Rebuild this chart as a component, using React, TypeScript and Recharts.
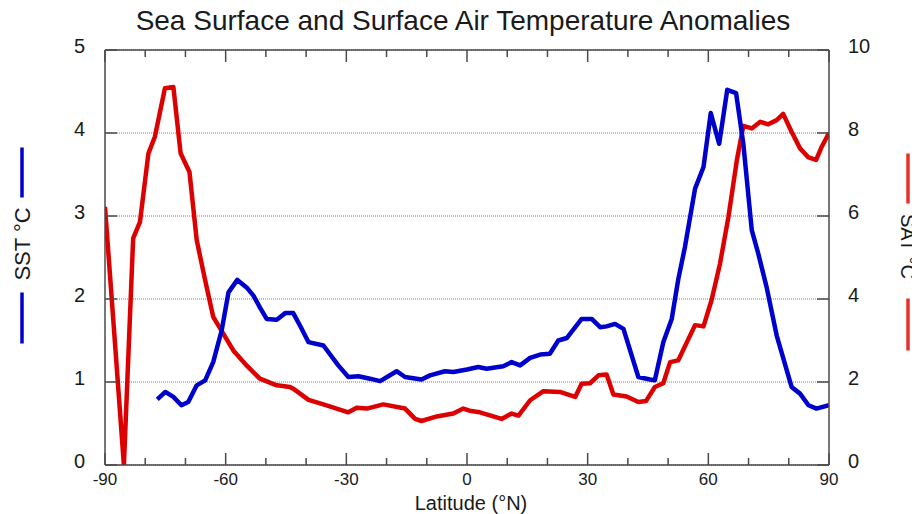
import React from 'react';
import { LineChart, Line, XAxis, YAxis, CartesianGrid } from 'recharts';

// ---- data ----
const SST_LAT = [-77, -75, -73, -71, -69.3, -67.2, -65.1, -63.1, -61, -59.3, -57.1, -54.8, -53.1, -51.5, -49.8, -47.3, -45.2, -43.2, -41.3, -39.4, -35.7, -32, -29.5, -27, -24.1, -21.6, -17.5, -15.4, -11.3, -9.2, -5.5, -3.4, 0, 2.8, 4.9, 9, 11.1, 13.2, 15.7, 18.2, 20.6, 22.7, 24.8, 28.5, 31, 33.1, 34.7, 36.8, 38.9, 42.6, 45.5, 46.7, 48.8, 50.9, 52.5, 54.2, 56.7, 58.8, 60.6, 62.7, 64.7, 66.9, 68.7, 70.8, 72.4, 74.5, 77, 80.7, 82.8, 84.9, 86.9, 90];
const SST_VAL = [0.79, 0.88, 0.82, 0.72, 0.76, 0.96, 1.02, 1.24, 1.62, 2.08, 2.23, 2.14, 2.04, 1.9, 1.76, 1.75, 1.83, 1.83, 1.66, 1.48, 1.44, 1.2, 1.06, 1.07, 1.04, 1.01, 1.13, 1.06, 1.03, 1.08, 1.13, 1.12, 1.15, 1.18, 1.16, 1.19, 1.24, 1.2, 1.29, 1.33, 1.34, 1.5, 1.53, 1.76, 1.76, 1.66, 1.67, 1.7, 1.64, 1.06, 1.03, 1.02, 1.48, 1.76, 2.23, 2.63, 3.33, 3.59, 4.24, 3.87, 4.52, 4.48, 3.87, 2.83, 2.55, 2.14, 1.56, 0.94, 0.86, 0.72, 0.68, 0.72];

const SAT_LAT = [-90, -85.3, -83, -81.3, -79.2, -77.6, -75.1, -73, -71.2, -69, -67.2, -65.1, -63.1, -58.1, -54.8, -51.5, -47.3, -44, -43.2, -39.4, -35.7, -29.5, -27.4, -24.9, -20.8, -15.4, -12.9, -11.3, -7.5, -3.4, -0.9, 1, 3.2, 8.6, 11.1, 12.8, 15.7, 19, 23.1, 26.9, 28.5, 30.6, 32.7, 34.7, 36.4, 39.7, 42.6, 44.5, 46.7, 48.8, 50.5, 52.5, 56.7, 58.8, 60.8, 62.9, 65, 67.1, 68.7, 70.8, 72.9, 74.9, 77, 78.6, 80.7, 82.8, 84.9, 86.8, 88.2, 90];
const SAT_VAL = [6.22, 0, 5.46, 5.86, 7.51, 7.91, 9.08, 9.11, 7.51, 7.06, 5.42, 4.45, 3.57, 2.76, 2.4, 2.08, 1.92, 1.88, 1.84, 1.57, 1.46, 1.27, 1.38, 1.36, 1.46, 1.36, 1.11, 1.06, 1.17, 1.24, 1.36, 1.3, 1.27, 1.11, 1.24, 1.19, 1.56, 1.78, 1.76, 1.64, 1.96, 1.97, 2.16, 2.18, 1.7, 1.65, 1.52, 1.54, 1.88, 1.97, 2.48, 2.52, 3.37, 3.34, 3.97, 4.85, 5.98, 7.35, 8.17, 8.11, 8.27, 8.21, 8.31, 8.46, 8.03, 7.63, 7.41, 7.35, 7.67, 8.0];

const X_TICKS = [-90, -80, -70, -60, -50, -40, -30, -20, -10, 0, 10, 20, 30, 40, 50, 60, 70, 80, 90];
const SST_TICKS = [0, 1, 2, 3, 4, 5];
const SAT_TICKS = [0, 2, 4, 6, 8, 10];

const TITLE = 'Sea Surface and Surface Air Temperature Anomalies';
const X_LABEL = 'Latitude (°N)';
const SST_LABEL = 'SST °C';
const SAT_LABEL = 'SAT °C';

const sstData = SST_LAT.map((lat, i) => ({ lat, v: SST_VAL[i] }));
const satData = SAT_LAT.map((lat, i) => ({ lat, v: SAT_VAL[i] }));

// ---- styles ----
const AXIS = '#4a4a4a';
const TEXT = '#1a1a1a';
const BLUE = '#0000cc';
const RED = '#dd0000';
const FONT = '"Liberation Sans", Arial, Helvetica, sans-serif';
const TM = 10;

const BottomTick = (p: any) => {
  const { x, y, payload } = p;
  const ay = y - TM;
  const major = payload.value % 30 === 0;
  return (
    <g>
      <line x1={x} x2={x} y1={ay} y2={ay - (major ? 12 : 7)} stroke={AXIS} strokeWidth={1.5} />
      {major && (
        <text x={x} y={ay + 14} textAnchor="middle" dominantBaseline="central" fontSize={17} fill={TEXT} fontFamily={FONT}>
          {payload.value}
        </text>
      )}
    </g>
  );
};

const TopTick = (p: any) => {
  const { x, y, payload } = p;
  const ay = y + TM;
  const major = payload.value % 30 === 0;
  return <line x1={x} x2={x} y1={ay} y2={ay + (major ? 12 : 7)} stroke={AXIS} strokeWidth={1.5} />;
};

const LeftTick = (p: any) => {
  const { x, y, payload } = p;
  const ax = x + TM;
  return (
    <g>
      <line x1={ax} x2={ax + 12} y1={y} y2={y} stroke={AXIS} strokeWidth={1.5} />
      <text x={ax - 20} y={y - 4} textAnchor="end" dominantBaseline="central" fontSize={20} fill={TEXT} fontFamily={FONT}>
        {payload.value}
      </text>
    </g>
  );
};

const RightTick = (p: any) => {
  const { x, y, payload } = p;
  const ax = x - TM;
  return (
    <g>
      <line x1={ax} x2={ax - 12} y1={y} y2={y} stroke={AXIS} strokeWidth={1.5} />
      <text x={ax + 19} y={y - 4} textAnchor="start" dominantBaseline="central" fontSize={20} fill={TEXT} fontFamily={FONT}>
        {payload.value}
      </text>
    </g>
  );
};

const LeftLabel = (p: any) => {
  const vb = p.viewBox;
  const cx = vb.x + 22;
  const cy = vb.y + vb.height / 2 - 12;
  return (
    <g>
      <line x1={cx} x2={cx} y1={cy - 98} y2={cy - 48} stroke={BLUE} strokeWidth={3.5} />
      <text x={cx} y={cy - 1.5} transform={`rotate(-90 ${cx} ${cy - 1.5})`} textAnchor="middle" dominantBaseline="central" fontSize={22} fill={TEXT} fontFamily={FONT}>
        {SST_LABEL}
      </text>
      <line x1={cx} x2={cx} y1={cy + 47} y2={cy + 98} stroke={BLUE} strokeWidth={3.5} />
    </g>
  );
};

const RightLabel = (p: any) => {
  const vb = p.viewBox;
  const cx = vb.x + 79;
  const cy = vb.y + vb.height / 2 - 6;
  return (
    <g>
      <line x1={cx} x2={cx} y1={cy - 98} y2={cy - 48} stroke="#e8302a" strokeWidth={3.5} />
      <text x={cx} y={cy - 5} transform={`rotate(90 ${cx} ${cy - 5})`} textAnchor="middle" dominantBaseline="central" fontSize={20} fill={TEXT} fontFamily={FONT}>
        {SAT_LABEL}
      </text>
      <line x1={cx} x2={cx} y1={cy + 47} y2={cy + 99} stroke="#e8302a" strokeWidth={3.5} />
    </g>
  );
};

const BottomLabel = (p: any) => {
  const vb = p.viewBox;
  return (
    <text x={vb.x + vb.width / 2 + 4} y={vb.y + 38} textAnchor="middle" dominantBaseline="central" fontSize={20} fill={TEXT} fontFamily={FONT}>
      {X_LABEL}
    </text>
  );
};

const TitleLabel = (p: any) => {
  const vb = p.viewBox;
  return (
    <text x={vb.x + vb.width / 2 - 4} y={20} textAnchor="middle" dominantBaseline="central" fontSize={28} fill={TEXT} fontFamily={FONT}>
      {TITLE}
    </text>
  );
};

export default function App() {
  return (
    <div style={{ width: 920, height: 514, margin: '-8px 0 0 -8px' }}>
      <LineChart width={920} height={514} margin={{ top: 49, right: 0, bottom: 0, left: 0 }}>
        <CartesianGrid xAxisId="b" yAxisId="sst" vertical={false} stroke="#6a6af2" strokeDasharray="1 1" strokeWidth={1} />
        <XAxis
          xAxisId="b"
          dataKey="lat"
          type="number"
          domain={[-90, 90]}
          allowDataOverflow
          ticks={X_TICKS}
          interval={0}
          tick={(p: any) => <BottomTick {...p} />}
          tickSize={0}
          tickMargin={TM}
          tickLine={false}
          axisLine={{ stroke: AXIS, strokeWidth: 1.5 }}
          height={49}
          label={(p: any) => <BottomLabel {...p} />}
        />
        <XAxis
          xAxisId="t"
          orientation="top"
          dataKey="lat"
          type="number"
          domain={[-90, 90]}
          allowDataOverflow
          ticks={X_TICKS}
          interval={0}
          tick={(p: any) => <TopTick {...p} />}
          tickSize={0}
          tickMargin={TM}
          tickLine={false}
          axisLine={{ stroke: AXIS, strokeWidth: 1.5 }}
          height={1}
          label={(p: any) => <TitleLabel {...p} />}
        />
        <YAxis
          yAxisId="sst"
          orientation="left"
          type="number"
          domain={[0, 5]}
          allowDataOverflow
          ticks={SST_TICKS}
          interval={0}
          width={105}
          tick={(p: any) => <LeftTick {...p} />}
          tickSize={0}
          tickMargin={TM}
          tickLine={false}
          axisLine={{ stroke: AXIS, strokeWidth: 1.5 }}
          label={(p: any) => <LeftLabel {...p} />}
        />
        <YAxis
          yAxisId="sat"
          orientation="right"
          type="number"
          domain={[0, 10]}
          allowDataOverflow
          ticks={SAT_TICKS}
          interval={0}
          width={91}
          tick={(p: any) => <RightTick {...p} />}
          tickSize={0}
          tickMargin={TM}
          tickLine={false}
          axisLine={{ stroke: AXIS, strokeWidth: 1.5 }}
          label={(p: any) => <RightLabel {...p} />}
        />
        <Line
          xAxisId="b"
          yAxisId="sat"
          data={satData}
          dataKey="v"
          type="linear"
          stroke={RED}
          strokeWidth={4.5}
          strokeLinejoin="round"
          dot={false}
          activeDot={false}
          isAnimationActive={false}
        />
        <Line
          xAxisId="b"
          yAxisId="sst"
          data={sstData}
          dataKey="v"
          type="linear"
          stroke={BLUE}
          strokeWidth={4.5}
          strokeLinejoin="round"
          dot={false}
          activeDot={false}
          isAnimationActive={false}
        />
      </LineChart>
    </div>
  );
}
